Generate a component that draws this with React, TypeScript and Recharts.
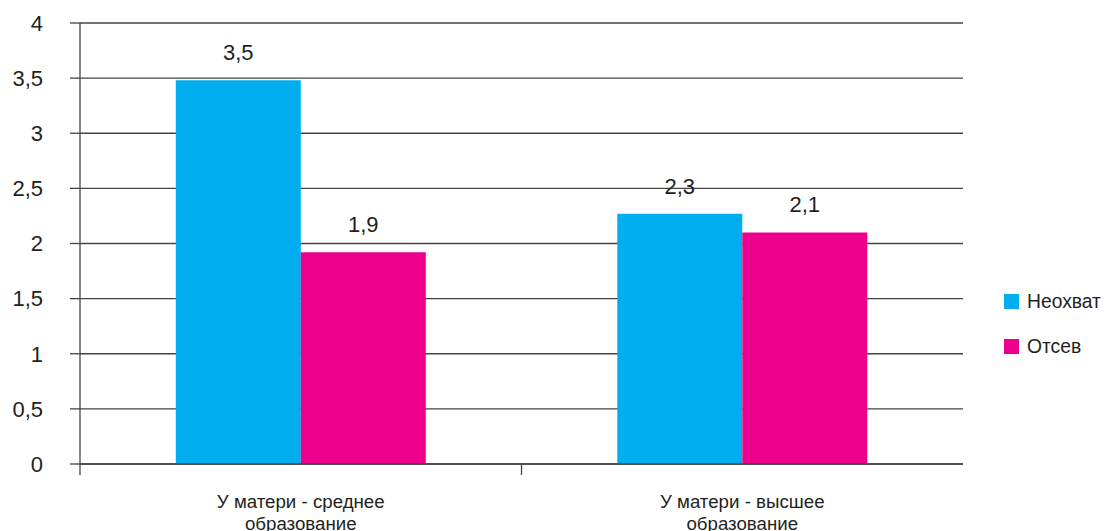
import { BarChart, Bar, XAxis, YAxis, CartesianGrid, LabelList } from 'recharts';

const categories = ['У матери - среднее образование', 'У матери - высшее образование'];
const neokhvat = [3.48, 2.27];
const otsev = [1.92, 2.1];
const yTicks = [0, 0.5, 1, 1.5, 2, 2.5, 3, 3.5, 4];

const SERIES = [
  { key: 'neokhvat', name: 'Неохват', color: '#00aeef' },
  { key: 'otsev', name: 'Отсев', color: '#ec008c' },
];

const data = categories.map((category, i) => ({
  category,
  neokhvat: neokhvat[i],
  otsev: otsev[i],
}));

const AXIS = '#444';
const TEXT = '#231f20';
const FONT = '"Liberation Sans", Arial, sans-serif';

const comma = (v: number | string) => Number(v).toFixed(1).replace('.', ',');

function CategoryTick(props: any) {
  const { x, y, payload } = props;
  const words = String(payload.value).split(' ');
  const last = words.pop();
  const off = payload.offset ?? 0;
  return (
    <g>
      <line x1={x - off} x2={x - off} y1={y - 11} y2={y} stroke={AXIS} strokeWidth={1.3} />
      <text x={x} y={y} textAnchor="middle" fill={TEXT} fontSize={18.7} fontFamily={FONT}>
        <tspan x={x} dy={33}>{words.join(' ')}</tspan>
        <tspan x={x} dy={21.6}>{last}</tspan>
      </text>
    </g>
  );
}

export default function App() {
  return (
    <div style={{ position: 'absolute', left: 0, top: 0, width: 1104, height: 531, background: '#fff', fontFamily: FONT }}>
      <BarChart
        width={1104}
        height={531}
        data={data}
        margin={{ top: 23, right: 141, bottom: 0, left: 0 }}
        barCategoryGap="21.7%"
        barGap={0}
      >
        <CartesianGrid vertical={false} stroke={AXIS} strokeWidth={1.3} />
        <XAxis
          dataKey="category"
          height={67}
          axisLine={{ stroke: AXIS, strokeWidth: 1.3 }}
          tickLine={false}
          tickSize={11}
          tickMargin={0}
          interval={0}
          tick={<CategoryTick />}
        />
        <YAxis
          width={80}
          domain={[0, 4]}
          ticks={yTicks}
          interval={0}
          tickFormatter={(v: number) => String(v).replace('.', ',')}
          axisLine={{ stroke: AXIS, strokeWidth: 1.3 }}
          tickLine={{ stroke: AXIS, strokeWidth: 1.3 }}
          tickSize={10}
          tickMargin={27}
          tick={{ fill: TEXT, fontSize: 22, fontFamily: FONT }}
        />
        {SERIES.map((s) => (
          <Bar key={s.key} dataKey={s.key} name={s.name} fill={s.color} isAnimationActive={false}>
            <LabelList
              dataKey={s.key}
              position="top"
              offset={20}
              formatter={comma}
              fill={TEXT}
              fontSize={22}
              fontFamily={FONT}
            />
          </Bar>
        ))}
      </BarChart>

      <div style={{ position: 'absolute', left: 1004, top: 292 }}>
        {SERIES.map((s) => (
          <div key={s.key} style={{ display: 'flex', alignItems: 'center', height: 19, marginBottom: 26 }}>
            <span style={{ width: 15, height: 15, background: s.color, display: 'inline-block' }} />
            <span style={{ marginLeft: 8, fontSize: 19.3, color: TEXT }}>{s.name}</span>
          </div>
        ))}
      </div>
    </div>
  );
}
